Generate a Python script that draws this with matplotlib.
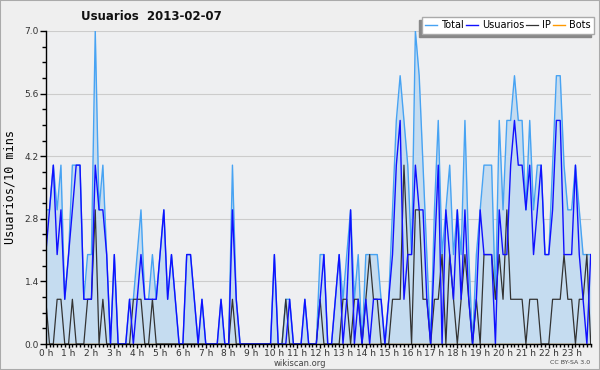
import numpy as np
import matplotlib
matplotlib.use("Agg")
import matplotlib.pyplot as plt
from matplotlib.ticker import MultipleLocator, FixedLocator
from matplotlib.patches import Rectangle

# usuarios / 10 min, 2013-02-07 (144 intervalos)
usuarios = [2, 3, 4, 2, 3, 1, 2, 3, 4, 4, 1, 1, 1, 4, 3, 3, 2, 0, 2, 0,
            0, 0, 1, 0, 1, 2, 1, 1, 1, 1, 2, 3, 1, 2, 1, 0, 0, 2, 2, 1,
            0, 1, 0, 0, 0, 0, 1, 0, 0, 3, 1, 0, 0, 0, 0, 0, 0, 0, 0, 0,
            2, 0, 0, 0, 1, 0, 0, 0, 1, 0, 0, 0, 1, 2, 0, 0, 1, 2, 0, 1,
            3, 0, 1, 0, 1, 0, 1, 1, 1, 0, 1, 2, 4, 5, 1, 2, 2, 4, 3, 3,
            1, 0, 2, 4, 0, 3, 2, 1, 3, 1, 3, 1, 0, 1, 3, 2, 2, 2, 0, 3,
            2, 2, 4, 5, 4, 4, 3, 4, 2, 3, 4, 2, 2, 3, 5, 5, 2, 2, 2, 4,
            2, 1, 0, 2]
ip = [1, 0, 0, 1, 1, 0, 0, 1, 0, 0, 0, 1, 1, 3, 0, 1, 0, 0, 0, 0,
      0, 0, 0, 1, 1, 1, 0, 0, 1, 0, 0, 0, 0, 0, 0, 0, 0, 0, 0, 0,
      0, 0, 0, 0, 0, 0, 0, 0, 0, 1, 0, 0, 0, 0, 0, 0, 0, 0, 0, 0,
      0, 0, 0, 1, 0, 0, 0, 0, 0, 0, 0, 0, 1, 0, 0, 0, 0, 0, 1, 1,
      0, 1, 1, 0, 1, 2, 1, 1, 0, 0, 0, 1, 1, 1, 4, 2, 0, 3, 3, 1,
      1, 0, 1, 1, 2, 0, 2, 1, 0, 1, 2, 1, 0, 1, 0, 2, 2, 2, 1, 2,
      1, 3, 1, 1, 1, 1, 0, 1, 1, 1, 0, 0, 0, 1, 1, 1, 2, 1, 1, 0,
      1, 1, 2, 0]
total = [3, 3, 4, 3, 4, 1, 2, 4, 4, 4, 1, 2, 2, 7, 3, 4, 2, 0, 2, 0,
         0, 0, 1, 1, 2, 3, 1, 1, 2, 1, 2, 3, 1, 2, 1, 0, 0, 2, 2, 1,
         0, 1, 0, 0, 0, 0, 1, 0, 0, 4, 1, 0, 0, 0, 0, 0, 0, 0, 0, 0,
         2, 0, 0, 1, 1, 0, 0, 0, 1, 0, 0, 0, 2, 2, 0, 0, 1, 2, 1, 2,
         3, 1, 2, 0, 2, 2, 2, 2, 1, 0, 1, 3, 5, 6, 5, 4, 2, 7, 6, 4,
         2, 0, 3, 5, 2, 3, 4, 2, 3, 2, 5, 2, 0, 2, 3, 4, 4, 4, 1, 5,
         3, 5, 5, 6, 5, 5, 3, 5, 3, 4, 4, 2, 2, 4, 6, 6, 4, 3, 3, 4,
         3, 2, 2, 2]
bots = [0] * 144
hours = ["{} h".format(h) for h in range(24)]

x = np.arange(len(total))

fig = plt.figure(figsize=(6, 3.7), dpi=100, facecolor="#efefef")
fig.patches.append(Rectangle((0, 0), 1, 1, transform=fig.transFigure,
                             fill=False, edgecolor="#aaaaaa", linewidth=1.5))
ax = fig.add_axes([45.7 / 600, 26 / 370, 545 / 600, 313 / 370])
ax.set_facecolor("#eeeff1")

ax.fill_between(x, 0, total, color="#c5dcf0", linewidth=0, zorder=1)
ax.plot(x, bots, color="#ff9900", lw=1, zorder=1.5, label="Bots")
ax.plot(x, total, color="#47a3f3", lw=1, zorder=2, label="Total")
ax.plot(x, usuarios, color="#1010ff", lw=1, zorder=2.2, label="Usuarios")
ax.plot(x, ip, color="#333333", lw=0.9, zorder=2.1, label="IP")

ax.set_xlim(0, 143)
ax.set_ylim(0, 7)
ax.yaxis.set_major_locator(FixedLocator([0, 1.4, 2.8, 4.2, 5.6, 7.0]))
ax.yaxis.set_minor_locator(MultipleLocator(0.35))
ax.set_yticklabels(["0.0", "1.4", "2.8", "4.2", "5.6", "7.0"])
ax.xaxis.set_major_locator(FixedLocator(np.arange(24) * 6))
ax.xaxis.set_minor_locator(MultipleLocator(1))
ax.set_xticklabels(hours)
ax.tick_params(which="major", length=4, width=1, labelsize=6.5, pad=1,
               colors="black", labelcolor="#333333")
ax.tick_params(which="minor", length=3, width=1)
ax.tick_params(axis="x", which="major", length=3, pad=0.5)
ax.tick_params(axis="x", which="minor", length=2.5)
ax.grid(axis="y", which="major", color="#cccccc", lw=0.8, zorder=0)
ax.set_axisbelow(True)
for s in ["top", "right"]:
    ax.spines[s].set_visible(False)
for s in ["left", "bottom"]:
    ax.spines[s].set_linewidth(1)
    ax.spines[s].set_zorder(3)

ax.set_ylabel("Usuarios/10 mins", family="DejaVu Sans Mono", fontsize=8.5, labelpad=6)

h, l = ax.get_legend_handles_labels()
order = [1, 2, 3, 0]
leg = ax.legend([h[i] for i in order], [l[i] for i in order], ncol=4,
                loc="upper right", bbox_to_anchor=(594 / 600, 1 - 17 / 370),
                bbox_transform=fig.transFigure, fontsize=7, frameon=True,
                fancybox=False, shadow=False,
                edgecolor="#aaaaaa", facecolor="white", framealpha=1,
                handlelength=1.2, handletextpad=0.45, columnspacing=0.2,
                borderpad=0.35, borderaxespad=0)
leg.get_frame().set_linewidth(1)
leg.set_zorder(6)

# sombra del cuadro de leyenda (3 px abajo-izquierda)
fig.canvas.draw()
bb = leg.get_window_extent().transformed(fig.transFigure.inverted())
ax.add_patch(Rectangle((bb.x0 - 3 / 600, bb.y0 - 3 / 370), bb.width, bb.height,
                       transform=fig.transFigure, color="#888888",
                       zorder=5.5, clip_on=False))

fig.text(151 / 600, 1 - 16 / 370, "Usuarios  2013-02-07", fontsize=8.5,
         fontweight="bold", ha="center", va="center", color="#111111")
fig.text(300 / 600, 1 - 363 / 370, "wikiscan.org", fontsize=6, ha="center",
         va="center", color="#444444")
fig.text(590 / 600, 1 - 363 / 370, "CC BY-SA 3.0", fontsize=4.5, ha="right",
         va="center", color="#444444")

fig.savefig("out.png", dpi=100, facecolor=fig.get_facecolor())
